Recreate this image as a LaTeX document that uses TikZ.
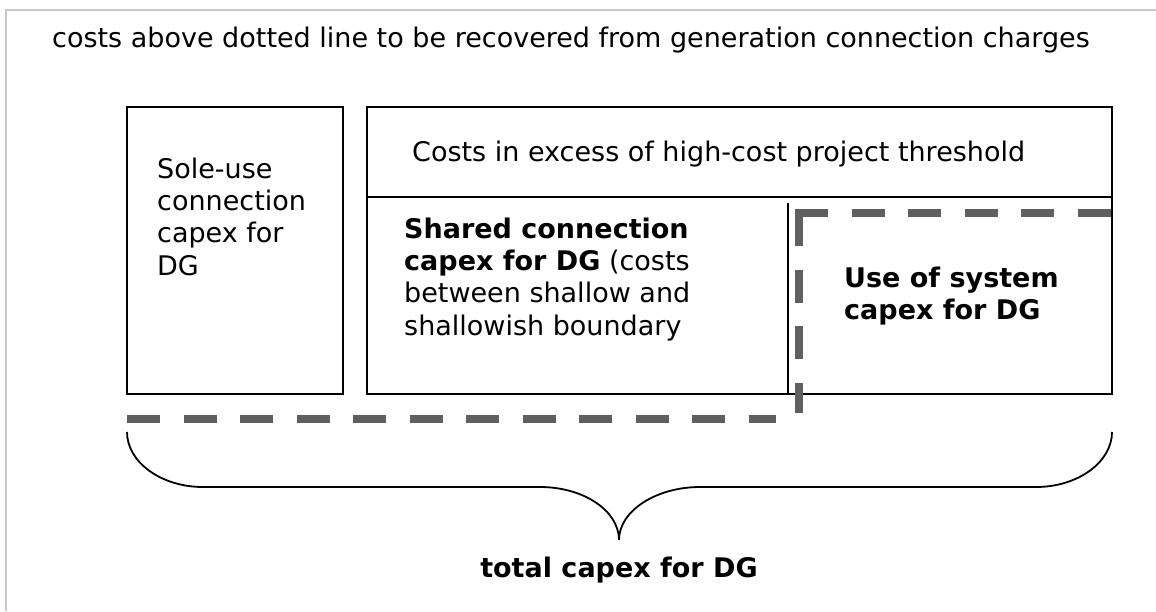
\documentclass[tikz,border=0pt]{standalone}
\usepackage{fontspec}
\setmainfont{DejaVu Sans}
\definecolor{framegray}{RGB}{200,200,200}
\definecolor{dashgray}{RGB}{95,95,95}
\tikzset{
  txt/.style={font=\fontsize{27}{32.4}\selectfont, inner sep=0pt, anchor=base west, align=left},
  boxline/.style={draw=black, line width=1.8pt},
  thickdash/.style={draw=dashgray, line width=8pt, dash pattern=on 33pt off 23.5pt},
  bracepen/.style={draw=black, line width=1.8pt}
}
\begin{document}
\begin{tikzpicture}[x=1pt,y=-1pt]
\useasboundingbox (0,0) rectangle (1156,611);
% outer frame (only top and left edges visible)
\coordinate (fbl) at (6,611);
\coordinate (ftl) at (6,10);
\coordinate (ftr) at (1156,10);
\draw[framegray, line width=2.2pt] (fbl) -- (ftl) -- (ftr);

% title
\node[txt] (title) at (52,47) {costs above dotted line to be recovered from generation connection charges};

% boxes
\coordinate (s1) at (127,107);
\coordinate (s2) at (343,394);
\draw[boxline] (s1) rectangle (s2);
\coordinate (b1) at (367,107);
\coordinate (b2) at (1112,394);
\draw[boxline] (b1) rectangle (b2);
\coordinate (hl) at (367,197);
\coordinate (hr) at (1112,197);
\draw[boxline] (hl) -- (hr);
\coordinate (vt) at (788,203);
\coordinate (vb) at (788,394);
\draw[boxline] (vt) -- (vb);

% box texts (base anchor = baseline of the last line)
\node[txt] (sole) at (157,275.2) {Sole-use\\connection\\capex for\\DG};
\node[txt] (excess) at (412,161) {Costs in excess of high-cost project threshold};
\node[txt] (shared) at (404,335.2) {\textbf{Shared connection}\\\textbf{capex for DG} (costs\\between shallow and\\shallowish boundary};
\node[txt] (uos) at (844,319.5) {\textbf{Use of system}\\\textbf{capex for DG}};

% thick dashed boundary
\coordinate (d1) at (127,419);
\coordinate (d2) at (776,419);
\draw[thickdash] (d1) -- (d2);
\coordinate (c0) at (795,213);
\coordinate (c1) at (799,213);
\coordinate (c2) at (1112,213);
\coordinate (c3) at (799,413);
\draw[thickdash] (c0) -- (c2);
\draw[thickdash] (c1) -- (c3);

% brace
\coordinate (bl) at (127,432);
\coordinate (br) at (1112,432);
\coordinate (tip) at (619,540);
\draw[bracepen] (bl) .. controls (127,462) and (161,487) .. (203,487)
  -- (540,487) .. controls (584,487) and (619,511) .. (tip)
  .. controls (619,511) and (656,487) .. (700,487)
  -- (1036,487) .. controls (1078,487) and (1112,462) .. (br);

\node[txt, anchor=base] (total) at (619,577) {\textbf{total capex for DG}};
\end{tikzpicture}
\end{document}
